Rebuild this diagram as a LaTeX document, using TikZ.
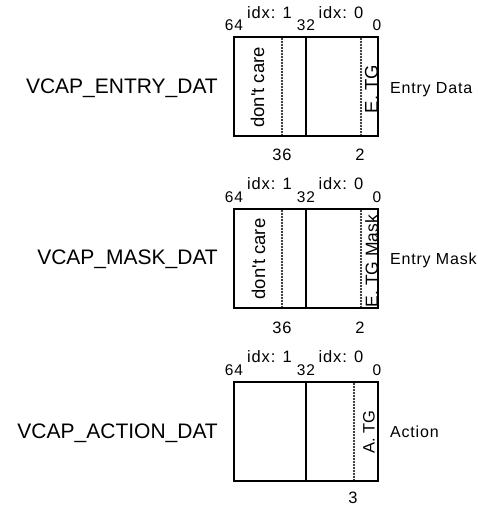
\documentclass[tikz,border=0pt]{standalone}
\usepackage{fontspec}
\setmainfont{Liberation Sans}
\newfontfamily\spacedfont[LetterSpace=5]{Liberation Sans}
\newcommand\fsz[1]{\fontsize{#1}{#1}\selectfont}
\tikzset{
  box/.style={line width=1.3pt},
  dotline/.style={line width=2.4pt, line cap=round, dash pattern=on 0pt off 3pt},
  biglabel/.style={font=\fsz{21}, anchor=base east, inner sep=0pt},
  sidelabel/.style={font=\spacedfont\fsz{16}, anchor=base west, inner sep=0pt},
  bitnum/.style={font=\spacedfont\fsz{15.5}, anchor=base, inner sep=0pt},
  idxlabel/.style={font=\spacedfont\fsz{16.5}, anchor=base, inner sep=0pt},
  botnum/.style={font=\spacedfont\fsz{16.5}, anchor=base, inner sep=0pt},
  field/.style={font=\fsz{18.5}, rotate=90, inner sep=0pt},
}
\begin{document}
\begin{tikzpicture}[x=1pt,y=-1pt]
\useasboundingbox (0,0) rectangle (477,506);

% ---------- VCAP_ENTRY_DAT ----------
\node[biglabel] (l1) at (218,93.5) {VCAP\_ENTRY\_DAT};
\draw[dotline] (282,39) -- (282,135);
\draw[dotline] (361,39) -- (361,135);
\draw[box] (234,37) rectangle (378,136);
\draw[box] (306,37) -- (306,136);
\node[bitnum] (a64) at (234,30) {64};
\node[bitnum] (a32) at (306,30) {32};
\node[bitnum] (a0) at (377,30) {0};
\node[idxlabel] (ai1) at (269.5,18.5) {idx: 1};
\node[idxlabel] (ai0) at (341,18.5) {idx: 0};
\node[botnum] (a36) at (282,160) {36};
\node[botnum] (a2) at (360,160) {2};
\node[field] (adc) at (257.5,87.5) {don\textquotesingle t care};
\node[field] (aetg) at (371.5,89) {E. TG};
\node[sidelabel] (r1) at (390,93.5) {Entry Data};

% ---------- VCAP_MASK_DAT ----------
\node[biglabel] (l2) at (218,264.5) {VCAP\_MASK\_DAT};
\draw[dotline] (282,211) -- (282,307);
\draw[dotline] (361,211) -- (361,307);
\draw[box] (234,209) rectangle (378,308);
\draw[box] (306,209) -- (306,308);
\node[bitnum] (b64) at (234,202) {64};
\node[bitnum] (b32) at (306,202) {32};
\node[bitnum] (b0) at (377,202) {0};
\node[idxlabel] (bi1) at (269.5,189.5) {idx: 1};
\node[idxlabel] (bi0) at (341,189.5) {idx: 0};
\node[botnum] (b36) at (282,333) {36};
\node[botnum] (b2) at (360,333) {2};
\node[field] (bdc) at (258.5,259) {don\textquotesingle t care};
\node[field, font=\fsz{17.5}] (betg) at (371.5,261) {E. TG Mask};
\node[sidelabel] (r2) at (390,264.5) {Entry Mask};

% ---------- VCAP_ACTION_DAT ----------
\node[biglabel] (l3) at (218,438) {VCAP\_ACTION\_DAT};
\draw[dotline] (354,384) -- (354,480);
\draw[box] (234,382) rectangle (378,481);
\draw[box] (306,382) -- (306,481);
\node[bitnum] (c64) at (234,375) {64};
\node[bitnum] (c32) at (306,375) {32};
\node[bitnum] (c0) at (377,375) {0};
\node[idxlabel] (ci1) at (269.5,362.5) {idx: 1};
\node[idxlabel] (ci0) at (341,362.5) {idx: 0};
\node[botnum] (c3) at (353,503) {3};
\node[field, font=\fsz{16.5}] (catg) at (369,432) {A. TG};
\node[sidelabel] (r3) at (390,437.5) {Action};
\end{tikzpicture}
\end{document}
